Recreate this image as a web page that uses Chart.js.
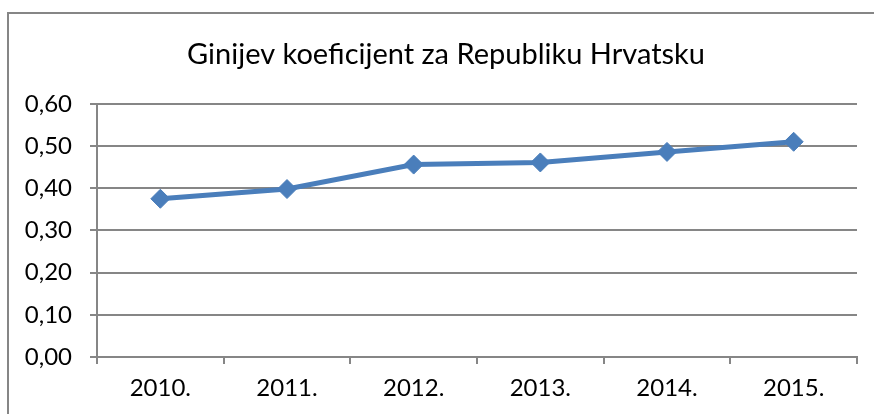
<!DOCTYPE html>
<html>
<head>
<meta charset="utf-8">
<script src="https://cdn.jsdelivr.net/npm/chart.js@4/dist/chart.umd.min.js"></script>
<style>
html,body{margin:0;padding:0;background:#fff;}
#wrap{width:874px;height:414px;position:relative;}
</style>
</head>
<body>
<div id="wrap"><canvas id="c" width="874" height="414"></canvas></div>
<script>
const categories = ['2010.', '2011.', '2012.', '2013.', '2014.', '2015.'];
const giniValues = [0.375, 0.398, 0.456, 0.461, 0.486, 0.510];
const chartTitle = 'Ginijev koeficijent za Republiku Hrvatsku';
const yTicks = [0, 0.1, 0.2, 0.3, 0.4, 0.5, 0.6];

const GRID = '#868686';
const BLUE = '#4a7ebb';
const FONT = 'Lato, "Open Sans", sans-serif';

const outerBorder = {
  id: 'outerBorder',
  afterLayout(chart) {
    const tb = chart.titleBlock;
    if (tb) { tb.left += 14; tb.right += 14; }
  },
  beforeDraw(chart) {
    const ctx = chart.ctx;
    ctx.save();
    ctx.fillStyle = '#fff';
    ctx.fillRect(0, 0, chart.width, chart.height);
    ctx.strokeStyle = GRID;
    ctx.lineWidth = 2;
    ctx.beginPath();
    ctx.moveTo(8, chart.height + 5);
    ctx.lineTo(8, 13);
    ctx.lineTo(chart.width + 5, 13);
    ctx.stroke();
    ctx.restore();
  }
};

new Chart(document.getElementById('c'), {
  type: 'line',
  data: {
    labels: categories,
    datasets: [{
      data: giniValues,
      borderColor: BLUE,
      backgroundColor: BLUE,
      borderWidth: 5,
      pointStyle: 'rectRot',
      pointRadius: 9.5,
      pointBorderWidth: 1,
      pointBorderColor: BLUE,
      pointBackgroundColor: BLUE,
      tension: 0,
      fill: false
    }]
  },
  options: {
    responsive: false,
    animation: false,
    layout: { padding: { left: 7, right: 17, top: 0, bottom: 0 } },
    plugins: {
      legend: { display: false },
      tooltip: { enabled: false },
      title: {
        display: true,
        text: chartTitle,
        color: '#000',
        font: { family: FONT, size: 29, weight: 'normal', lineHeight: 1.2 },
        padding: { top: 37, bottom: 32 }
      }
    },
    scales: {
      x: {
        offset: true,
        grid: {
          offset: true,
          drawOnChartArea: false,
          drawTicks: true,
          tickLength: 7,
          color: GRID,
          lineWidth: 2
        },
        border: { display: true, color: GRID, width: 2 },
        ticks: {
          color: '#000',
          font: { family: FONT, size: 24 },
          padding: 10,
          maxRotation: 0
        },
        afterFit(scale) { scale.height = 57; }
      },
      y: {
        min: 0,
        max: 0.6,
        afterBuildTicks(scale) { scale.ticks = yTicks.map(v => ({ value: v })); },
        grid: {
          color: GRID,
          lineWidth: 2,
          drawTicks: true,
          tickLength: 7
        },
        border: { display: true, color: GRID, width: 2 },
        ticks: {
          color: '#000',
          font: { family: FONT, size: 24 },
          padding: 18,
          callback: (v) => Number(v).toFixed(2).replace('.', ',')
        },
        afterFit(scale) { scale.width = 90; }
      }
    }
  },
  plugins: [outerBorder]
});
</script>
</body>
</html>
